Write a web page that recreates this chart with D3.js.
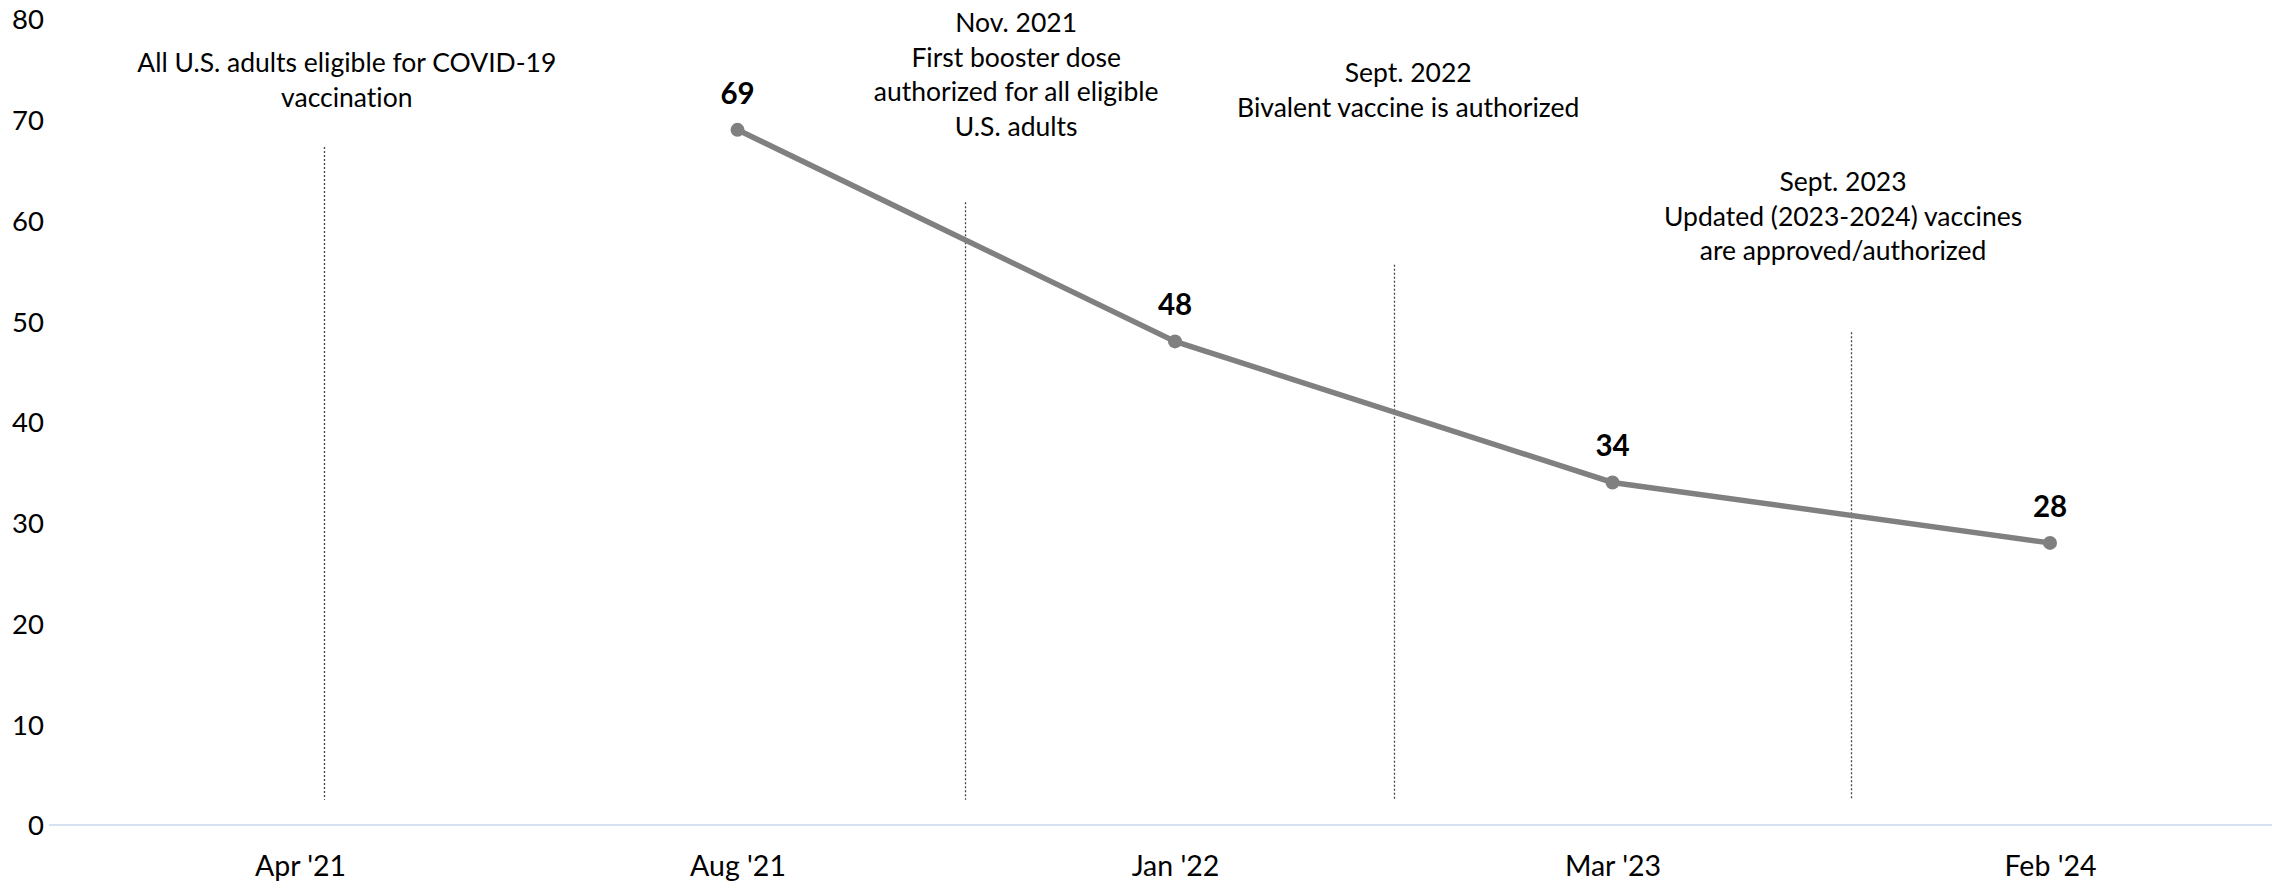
<!DOCTYPE html>
<html>
<head>
<meta charset="utf-8">
<script src="https://cdn.jsdelivr.net/npm/d3@7"></script>
<style>
  html, body { margin: 0; padding: 0; background: #fff; }
  svg { display: block; }
  text { font-family: Lato, "Noto Sans", sans-serif; fill: #000; font-variant-ligatures: none; font-feature-settings: "liga" 0, "clig" 0; }
</style>
</head>
<body>
<svg id="chart" width="2275" height="882"></svg>
<script>
// ---- data ----
const categories = ["Apr '21", "Aug '21", "Jan '22", "Mar '23", "Feb '24"];
const values = [null, 69, 48, 34, 28];
const yTicks = [0, 10, 20, 30, 40, 50, 60, 70, 80];
// event markers: position on category index scale, top value of dotted line
const eventPos = [0.054, 1.52, 2.50, 3.545];
const eventTop = [67.3, 61.8, 55.6, 48.9];
const eventLabels = [
  ["All U.S. adults eligible for COVID-19", "vaccination"],
  ["Nov. 2021", "First booster dose", "authorized for all eligible", "U.S. adults"],
  ["Sept. 2022", "Bivalent vaccine is authorized"],
  ["Sept. 2023", "Updated (2023-2024) vaccines", "are approved/authorized"]
];

// ---- layout ----
const W = 2275, H = 882;
const svg = d3.select("#chart");
const x = d3.scaleLinear().domain([0, 4]).range([300, 2050]);
const y = d3.scaleLinear().domain([0, 80]).range([825, 19]);
const labelCenter = [0.107, 1.637, 2.533, 3.527]; // text anchor positions (index units)
const labelFirstBaseline = [72, 32, 82, 191];
const lineH = 34.5;

// y axis labels
const yAxis = d3.axisLeft(y).tickValues(yTicks).tickSize(0).tickPadding(0);
const gy = svg.append("g").attr("transform", "translate(44,0)").call(yAxis);
gy.select(".domain").remove();
gy.selectAll("text").attr("font-size", 27.5).attr("font-family", "Lato").attr("fill", "#000").attr("dy", "0.36em");

// x axis line
svg.append("line")
  .attr("x1", 49).attr("x2", 2272)
  .attr("y1", y(0)).attr("y2", y(0))
  .attr("stroke", "#d6e1f2").attr("stroke-width", 2);

// x axis labels
const xAxis = d3.axisBottom(x).tickValues(d3.range(categories.length)).tickFormat(i => categories[i]).tickSize(0).tickPadding(0);
const gx = svg.append("g").attr("transform", `translate(0,${y(0)})`).call(xAxis);
gx.select(".domain").remove();
gx.selectAll("text").attr("font-size", 28.5).attr("font-family", "Lato").attr("fill", "#000").attr("dy", null).attr("y", 51);

// dotted event lines
svg.append("g").selectAll("line").data(eventPos).join("line")
  .attr("x1", d => Math.round(x(d)) + 0.5).attr("x2", d => Math.round(x(d)) + 0.5)
  .attr("y1", (d, i) => y(eventTop[i])).attr("y2", y(2.5))
  .attr("stroke", "#444").attr("stroke-width", 1.3).attr("stroke-dasharray", "2,2");

// event labels
eventLabels.forEach((lines, i) => {
  const t = svg.append("text")
    .attr("text-anchor", "middle")
    .attr("font-size", 26.5);
  lines.forEach((ln, j) => {
    t.append("tspan").attr("x", x(labelCenter[i])).attr("y", labelFirstBaseline[i] + j * lineH).text(ln);
  });
});

// line
const pts = values.map((v, i) => ({ i, v })).filter(d => d.v != null);
svg.append("path").datum(pts)
  .attr("fill", "none").attr("stroke", "#808080").attr("stroke-width", 5.5)
  .attr("d", d3.line().x(d => x(d.i)).y(d => y(d.v)));

svg.append("g").selectAll("circle").data(pts).join("circle")
  .attr("cx", d => x(d.i)).attr("cy", d => y(d.v)).attr("r", 7)
  .attr("fill", "#808080");

svg.append("g").selectAll("text").data(pts).join("text")
  .attr("x", d => x(d.i)).attr("y", d => y(d.v) - 26)
  .attr("text-anchor", "middle").attr("font-size", 29.5).attr("font-weight", "bold")
  .text(d => d.v);
</script>
</body>
</html>
